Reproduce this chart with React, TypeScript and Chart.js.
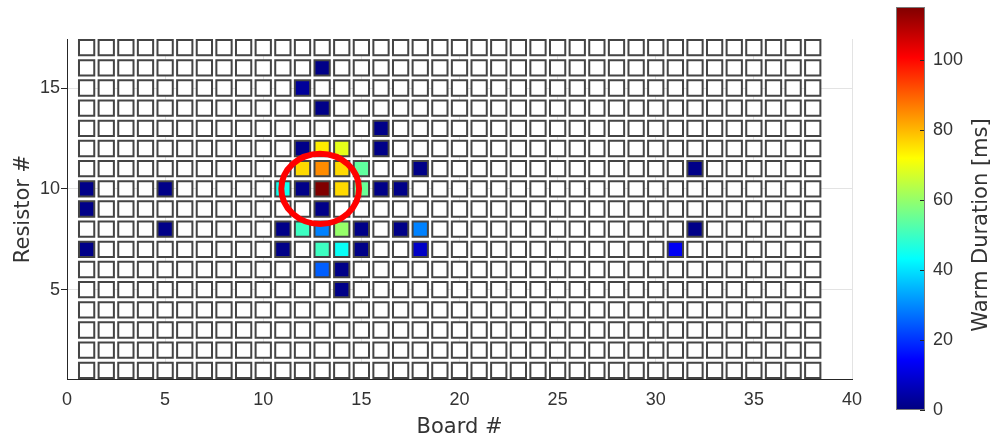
import React, { useEffect, useRef } from 'react';
import { Chart, registerables } from 'chart.js';

Chart.register(...registerables);

// ---- data ----
const boardCount = 38;
const resistorCount = 17;
const hotBoards = [
  13,
  12,
  13,
  16,
  12, 13, 14, 16,
  12, 13, 14, 15, 18, 32,
  1, 5, 11, 12, 13, 14, 15, 16, 17,
  1, 13,
  5, 11, 12, 13, 14, 15, 17, 18, 32,
  1, 11, 13, 14, 15, 18, 31,
  13, 14,
  14,
];
const hotResistors = [
  16,
  15,
  14,
  13,
  12, 12, 12, 12,
  11, 11, 11, 11, 11, 11,
  10, 10, 10, 10, 10, 10, 10, 10, 10,
  9, 9,
  8, 8, 8, 8, 8, 8, 8, 8, 8,
  7, 7, 7, 7, 7, 7, 7,
  6, 6,
  5,
];
const hotValues = [
  1,
  3,
  1,
  1,
  1, 74, 69, 1,
  76, 85, 76, 54, 1, 1,
  1, 1, 45, 1, 115, 76, 55, 1, 1,
  1, 1,
  1, 1, 50, 29, 60, 1, 1, 29, 1,
  1, 1, 50, 44, 1, 8, 13,
  25, 1,
  1,
];
const xTicks = [0, 5, 10, 15, 20, 25, 30, 35, 40];
const yTicks = [5, 10, 15];
const colorTicks = [0, 20, 40, 60, 80, 100];
const colorMax = 115;
const xRange = [0, 40];
const yRange = [0.57, 17.43];
const highlight = { board: 12.9, resistor: 10, rBoards: 1.98, rResistors: 1.74 };
const xTitle = 'Board #';
const yTitle = 'Resistor #';
const colorTitle = 'Warm Duration [ms]';

// ---- helpers ----
const TEXT = '#333333';
const TICK_FONT = { family: '"Liberation Sans", Arial, sans-serif', size: 18 };
const TITLE_FONT = { family: '"DejaVu Sans", sans-serif', size: 21 };

function jet(t: number): string {
  const c = (v: number) => Math.round(255 * Math.min(1, Math.max(0, v)));
  const r = c(1.5 - Math.abs(4 * t - 3));
  const g = c(1.5 - Math.abs(4 * t - 2));
  const b = c(1.5 - Math.abs(4 * t - 1));
  return `rgb(${r},${g},${b})`;
}

function buildCells() {
  const lookup = new Map<string, number>();
  hotBoards.forEach((b, i) => lookup.set(`${b}-${hotResistors[i]}`, hotValues[i]));
  const pts: { x: number; y: number; v: number | null }[] = [];
  for (let b = 1; b <= boardCount; b++) {
    for (let r = 1; r <= resistorCount; r++) {
      const k = `${b}-${r}`;
      pts.push({ x: b, y: r, v: lookup.has(k) ? (lookup.get(k) as number) : null });
    }
  }
  return pts;
}

const circlePlugin = {
  id: 'highlightCircle',
  afterDatasetsDraw(chart: any) {
    const { ctx, scales } = chart;
    const x = scales.x;
    const y = scales.y;
    const cx = x.getPixelForValue(highlight.board);
    const cy = y.getPixelForValue(highlight.resistor);
    const rx = Math.abs(x.getPixelForValue(highlight.board + highlight.rBoards) - cx);
    const ry = Math.abs(y.getPixelForValue(highlight.resistor + highlight.rResistors) - cy);
    ctx.save();
    ctx.beginPath();
    ctx.ellipse(cx, cy, rx, ry, 0, 0, Math.PI * 2);
    ctx.strokeStyle = '#ff0000';
    ctx.lineWidth = 6;
    ctx.stroke();
    ctx.restore();
  },
};

const colorbarPlugin = {
  id: 'colorbarFill',
  beforeDatasetsDraw(chart: any) {
    const { ctx, chartArea: a, scales } = chart;
    const y = scales.y;
    const y0 = y.getPixelForValue(0);
    const y1 = y.getPixelForValue(colorMax);
    const grad = ctx.createLinearGradient(0, y0, 0, y1);
    for (let i = 0; i <= 64; i++) grad.addColorStop(i / 64, jet(i / 64));
    ctx.save();
    ctx.fillStyle = grad;
    ctx.fillRect(a.left, a.top, a.right - a.left, a.bottom - a.top);
    ctx.strokeStyle = '#262626';
    ctx.lineWidth = 1;
    colorTicks.forEach((v) => {
      const py = Math.round(y.getPixelForValue(v)) + 0.5;
      ctx.beginPath();
      ctx.moveTo(a.right - 5, py);
      ctx.lineTo(a.right, py);
      ctx.stroke();
    });
    ctx.strokeStyle = '#7a7a7a';
    ctx.strokeRect(a.left + 0.5, a.top + 0.5, a.right - a.left - 1, a.bottom - a.top - 1);
    ctx.restore();
  },
  afterDraw(chart: any) {
    const { ctx } = chart;
    ctx.save();
    ctx.translate(102, 225);
    ctx.rotate(-Math.PI / 2);
    ctx.fillStyle = TEXT;
    ctx.font = `${TITLE_FONT.size}px ${TITLE_FONT.family}`;
    ctx.textAlign = 'center';
    ctx.textBaseline = 'middle';
    ctx.fillText(colorTitle, 0, 0);
    ctx.restore();
  },
};

export default function App() {
  const mainRef = useRef<HTMLCanvasElement>(null);
  const cbRef = useRef<HTMLCanvasElement>(null);

  useEffect(() => {
    const cells = buildCells();
    const main = new Chart(mainRef.current as HTMLCanvasElement, {
      type: 'scatter',
      data: {
        datasets: [
          {
            data: cells.map((c) => ({ x: c.x, y: c.y })),
            pointStyle: 'rect',
            pointRadius: 10.8,
            pointHoverRadius: 10.8,
            pointBackgroundColor: cells.map((c) => (c.v == null ? '#ffffff' : jet(c.v / colorMax))),
            pointBorderColor: '#444444',
            pointBorderWidth: 2,
            showLine: false,
            clip: false,
          } as any,
        ],
      },
      options: {
        responsive: false,
        animation: false,
        events: [],
        layout: { autoPadding: false, padding: { top: 39, right: 143, left: 0, bottom: 0 } },
        plugins: { legend: { display: false }, tooltip: { enabled: false } },
        scales: {
          x: {
            type: 'linear',
            min: xRange[0],
            max: xRange[1],
            afterBuildTicks: (s: any) => {
              s.ticks = xTicks.map((v) => ({ value: v }));
            },
            afterFit: (s: any) => {
              s.height = 61;
              s.paddingLeft = 0;
              s.paddingRight = 0;
            },
            grid: { color: '#e3e3e3', drawTicks: false, lineWidth: 1 },
            border: { display: true, color: '#262626', width: 1 },
            ticks: { color: TEXT, font: TICK_FONT, padding: 10, maxRotation: 0 },
            title: { display: true, text: xTitle, color: TEXT, font: TITLE_FONT, padding: { top: 0, bottom: 0 } },
          },
          y: {
            type: 'linear',
            min: yRange[0],
            max: yRange[1],
            afterBuildTicks: (s: any) => {
              s.ticks = yTicks.map((v) => ({ value: v }));
            },
            afterFit: (s: any) => {
              s.width = 67;
              s.paddingTop = 0;
              s.paddingBottom = 0;
            },
            grid: { color: '#e3e3e3', tickColor: '#262626', tickLength: 6, lineWidth: 1 },
            border: { display: true, color: '#262626', width: 1 },
            ticks: { color: TEXT, font: TICK_FONT, padding: 1 },
            title: { display: true, text: yTitle, color: TEXT, font: TITLE_FONT, padding: { top: 11, bottom: 0 } },
          },
        },
      },
      plugins: [circlePlugin],
    } as any);

    const cb = new Chart(cbRef.current as HTMLCanvasElement, {
      type: 'scatter',
      data: { datasets: [{ data: [] }] },
      options: {
        responsive: false,
        animation: false,
        events: [],
        layout: { autoPadding: false, padding: { top: 7, left: 16, bottom: 30, right: 0 } },
        plugins: { legend: { display: false }, tooltip: { enabled: false } },
        scales: {
          x: { display: false, min: 0, max: 1 },
          y: {
            type: 'linear',
            position: 'right',
            min: 0,
            max: colorMax,
            afterBuildTicks: (s: any) => {
              s.ticks = colorTicks.map((v) => ({ value: v }));
            },
            afterFit: (s: any) => {
              s.width = 70;
              s.paddingTop = 0;
              s.paddingBottom = 0;
            },
            grid: { display: false, drawTicks: false },
            border: { display: false },
            ticks: { color: TEXT, font: TICK_FONT, padding: 8 },
          },
        },
      },
      plugins: [colorbarPlugin],
    } as any);

    return () => {
      main.destroy();
      cb.destroy();
    };
  }, []);

  return (
    <div style={{ position: 'fixed', left: 0, top: 0, width: 995, height: 440, background: '#ffffff' }}>
      <canvas
        ref={mainRef}
        width={995}
        height={440}
        style={{ position: 'absolute', left: 0, top: 0, width: 995, height: 440 }}
      />
      <canvas
        ref={cbRef}
        width={115}
        height={440}
        style={{ position: 'absolute', left: 880, top: 0, width: 115, height: 440 }}
      />
    </div>
  );
}
